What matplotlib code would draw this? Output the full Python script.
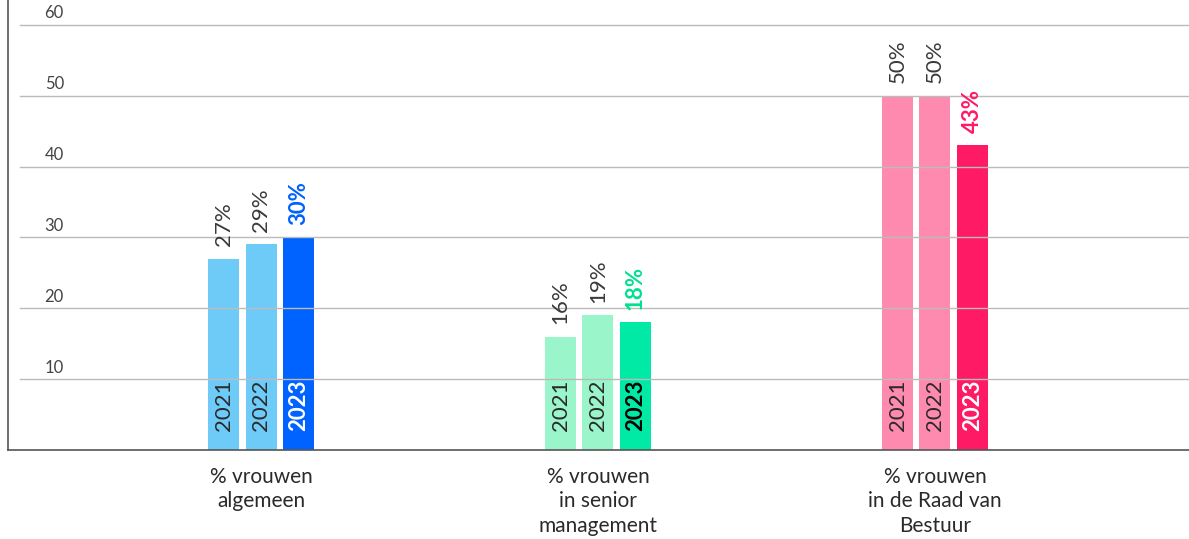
import matplotlib.pyplot as plt
import numpy as np

plt.rcParams['font.family'] = ['Lato', 'DejaVu Sans']

categories = ["% vrouwen\nalgemeen", "% vrouwen\nin senior\nmanagement", "% vrouwen\nin de Raad van\nBestuur"]
years = ["2021", "2022", "2023"]
values_2021 = [27, 16, 50]
values_2022 = [29, 19, 50]
values_2023 = [30, 18, 43]

light_colors = ["#6ecbf8", "#9af5ca", "#ff8ab0"]
dark_colors = ["#0062ff", "#00eaa6", "#ff1a66"]
year_text_2023 = ["white", "black", "white"]
pct_text_2023 = ["#0062ff", "#00e08f", "#ff1a66"]

fig = plt.figure(figsize=(11.89, 5.39), dpi=100)
ax = fig.add_axes([8 / 1189, 89 / 539, 1181 / 1189, 450 / 539])

x = np.arange(len(categories))
width = 0.092
step = 0.111
series = [values_2021, values_2022, values_2023]

for i, vals in enumerate(series):
    xs = x + (i - 1) * step
    for j, v in enumerate(vals):
        color = dark_colors[j] if i == 2 else light_colors[j]
        ax.bar(xs[j], v, width=width, color=color, zorder=1)
        bold = i == 2
        ax.annotate(f"{v}%", (xs[j], v), xytext=(0, 9), textcoords="offset points",
                    rotation=90, ha="center", va="bottom", fontsize=16,
                    color=pct_text_2023[j] if bold else "#3a3a3a",
                    fontweight="bold" if bold else "normal")
        ax.annotate(years[i], (xs[j], 0), xytext=(0, 14), textcoords="offset points",
                    rotation=90, ha="center", va="bottom", fontsize=16,
                    color=year_text_2023[j] if bold else "#2a2a2a",
                    fontweight="bold" if bold else "normal")

ax.set_xlim(-0.751, 2.754)
ax.set_ylim(0, 63.5)

for t in range(10, 61, 10):
    ax.axhline(t, xmin=0.01, xmax=1, color="#bbbbbb", lw=1, zorder=2)
    ax.text(0.031, t + 0.5, str(t), transform=ax.get_yaxis_transform(),
            fontsize=12, color="#444444", va="bottom", ha="left")

ax.set_xticks(x)
ax.set_xticklabels(categories, fontsize=15, color="#2a2a2a", linespacing=1.3)
ax.tick_params(axis="x", length=0, pad=12)
ax.set_yticks([])

for s in ["top", "right"]:
    ax.spines[s].set_visible(False)
ax.spines["left"].set_color("#555555")
ax.spines["bottom"].set_color("#555555")
ax.spines["left"].set_linewidth(1.2)
ax.spines["bottom"].set_linewidth(1.2)

fig.savefig("out.png", dpi=100)
